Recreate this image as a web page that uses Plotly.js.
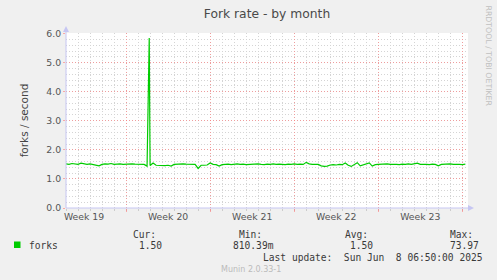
<!DOCTYPE html>
<html>
<head>
<meta charset="utf-8">
<script src="https://cdn.plot.ly/plotly-3.0.1.min.js"></script>
<style>html,body{margin:0;padding:0;background:#F0F0F0;}#chart{width:497px;height:280px;}</style>
</head>
<body>
<div id="chart"></div>
<script>
// ---- data ----
const sampleStepDays = 0.25;            // one averaged sample every 6 hours
const forkRate = [
  1.52,1.50,1.53,1.51,1.50,1.54,1.51,1.50,1.52,1.50,
  1.46,1.45,1.50,1.52,1.51,1.53,1.50,1.51,1.52,1.50,
  1.51,1.53,1.52,1.51,1.50,1.51,1.50,1.44,
  1.46,1.55,1.47,1.46,1.47,1.46,1.47,1.44,
  1.50,1.51,1.50,1.52,1.51,1.50,1.51,1.50,
  1.36,1.47,1.47,1.48,1.55,1.50,1.49,1.44,
  1.49,1.50,1.51,1.49,1.50,1.52,1.50,1.51,1.49,1.50,
  1.51,1.50,1.52,1.50,1.49,1.51,1.50,1.52,1.50,1.51,
  1.50,1.49,1.51,1.50,1.52,1.50,1.51,1.50,
  1.57,1.52,1.50,1.49,1.50,1.45,1.43,1.44,
  1.48,1.49,1.48,1.50,1.49,1.55,1.47,1.43,
  1.49,1.56,1.45,1.48,1.50,1.55,1.44,1.49,
  1.50,1.51,1.50,1.52,1.50,1.51,1.50,1.49,1.51,1.50,
  1.52,1.50,1.51,1.54,1.50,1.51,1.50,1.49,1.51,1.50,
  1.45,1.50,1.51,1.50,1.52,1.50,1.51,1.50,1.49,1.51
];
const spikeDay = 6.93;
const spikeValue = 5.85;
const weekStarts = [5, 12, 19, 26, 33];
const weekLabelPos = [1.5, 8.5, 15.5, 22.5, 29.5];
const weekLabels = ['Week 19', 'Week 20', 'Week 21', 'Week 22', 'Week 23'];
const yTicks = [0, 1, 2, 3, 4, 5, 6];
const seriesName = 'forks';
const stats = {cur: '1.50', min: '810.39m', avg: '1.50', max: '73.97'};
const lastUpdate = 'Last update:  Sun Jun  8 06:50:00 2025';

// ---- build series ----
let xs = [], ys = [];
forkRate.forEach((v, i) => {
  const d = i * sampleStepDays;
  if (xs.length && xs[xs.length - 1] < spikeDay && d > spikeDay) { xs.push(spikeDay); ys.push(spikeValue); }
  xs.push(d); ys.push(v);
});

// ---- geometry helpers (pixels -> paper) ----
const W = 497, H = 280, L = 66, R = 29, T = 33, B = 72;
const PW = W - L - R, PH = H - T - B;
const px = x => (x - L) / PW;
const py = y => (H - B - y) / PH;

const axisCol = '#c6c6f2';
const majorGrid = 'rgba(255,120,120,0.6)';
const minorGrid = '#d4d4d4';
const dotted = '1px,2px';
const mono = 'DejaVu Sans Mono';
const sans = 'DejaVu Sans';
const txtCol = '#555555';

function ann(text, x, y, opts) {
  return Object.assign({text: text, x: px(x), y: py(y), xref: 'paper', yref: 'paper',
    xanchor: 'left', yanchor: 'middle', showarrow: false,
    font: {family: mono, size: 9.6, color: '#3a3a3a'}}, opts || {});
}

const layout = {
  width: W, height: H,
  paper_bgcolor: '#F0F0F0', plot_bgcolor: '#FFFFFF',
  margin: {l: L, r: R, t: T, b: B, pad: 0},
  showlegend: false,
  title: {text: 'Fork rate - by month', x: 0.5, xref: 'paper', xanchor: 'center', y: 1 - 14 / H, yanchor: 'middle',
    font: {family: sans, size: 12.3, color: '#4a4a4a'}},
  xaxis: {
    range: [0, 33.47], showline: false, zeroline: false,
    tickvals: weekStarts, ticktext: weekStarts.map(() => ''),
    showgrid: true, gridcolor: majorGrid, griddash: dotted, gridwidth: 1,
    ticks: 'outside', ticklen: 3, tickcolor: majorGrid,
    minor: {dtick: 1, tick0: 0, showgrid: true, gridcolor: minorGrid, griddash: dotted, ticks: 'outside', ticklen: 2, tickcolor: '#cccccc'},
    fixedrange: true
  },
  xaxis2: {
    overlaying: 'x', side: 'bottom', range: [0, 33.47], showgrid: false, zeroline: false, showline: false,
    tickvals: weekLabelPos, ticktext: weekLabels, ticks: '', ticklabelstandoff: 2,
    tickfont: {family: sans, size: 9.3, color: txtCol}
  },
  yaxis: {
    range: [0, 6.02], zeroline: false, showline: false,
    tickvals: yTicks, ticktext: yTicks.map(v => v.toFixed(1)),
    tickfont: {family: sans, size: 9.3, color: txtCol},
    showgrid: true, gridcolor: majorGrid, griddash: dotted,
    ticks: 'outside', ticklen: 2, tickcolor: majorGrid,
    minor: {dtick: 0.2, tick0: 0, showgrid: true, gridcolor: minorGrid, griddash: dotted},
    title: {text: 'forks / second', standoff: 15, font: {family: sans, size: 10.5, color: '#444444'}},
    fixedrange: true
  },
  shapes: [
    // axis lines
    {type: 'line', xref: 'paper', yref: 'paper', x0: 0, x1: px(471), y0: 0, y1: 0, line: {color: axisCol, width: 1}},
    {type: 'line', xref: 'paper', yref: 'paper', x0: 0, x1: 0, y0: 0, y1: py(29), line: {color: axisCol, width: 1}},
    // arrows
    {type: 'path', xref: 'paper', yref: 'paper', fillcolor: axisCol, line: {width: 0},
      path: `M ${px(468)} ${py(205)} L ${px(474)} ${py(208)} L ${px(468)} ${py(211)} Z`},
    {type: 'path', xref: 'paper', yref: 'paper', fillcolor: axisCol, line: {width: 0},
      path: `M ${px(63)} ${py(32)} L ${px(66)} ${py(26)} L ${px(69)} ${py(32)} Z`},
    // legend swatch
    {type: 'rect', xref: 'paper', yref: 'paper', x0: px(14), x1: px(20.5), y0: py(241.5), y1: py(248), fillcolor: '#00CC00', line: {width: 0}}
  ],
  annotations: [
    ann(seriesName, 26.5, 245),
    ann('Cur:', 131, 234), ann(stats.cur, 136.5, 245),
    ann('Min:', 236.5, 234), ann(stats.min, 231, 245),
    ann('Avg:', 342.5, 234), ann(stats.avg, 347.5, 245),
    ann('Max:', 447.5, 234), ann(stats.max, 447.5, 245),
    ann(lastUpdate, 261, 257.5),
    ann('Munin 2.0.33-1', 218.5, 269, {font: {family: sans, size: 8, color: '#bbbbbb'}}),
    ann('RRDTOOL / TOBI OETIKER', 488.5, 56, {xanchor: 'center', textangle: 90, font: {family: sans, size: 7.8, color: '#c0c0c0'}})
  ]
};

const traces = [
  {x: xs, y: ys, type: 'scatter', mode: 'lines', line: {color: '#00CC00', width: 1.2}, hoverinfo: 'skip', cliponaxis: true},
  {x: [0], y: [0], xaxis: 'x2', type: 'scatter', mode: 'markers', marker: {opacity: 0}, hoverinfo: 'skip'}
];

Plotly.newPlot('chart', traces, layout, {staticPlot: true, displayModeBar: false});
</script>
</body>
</html>
